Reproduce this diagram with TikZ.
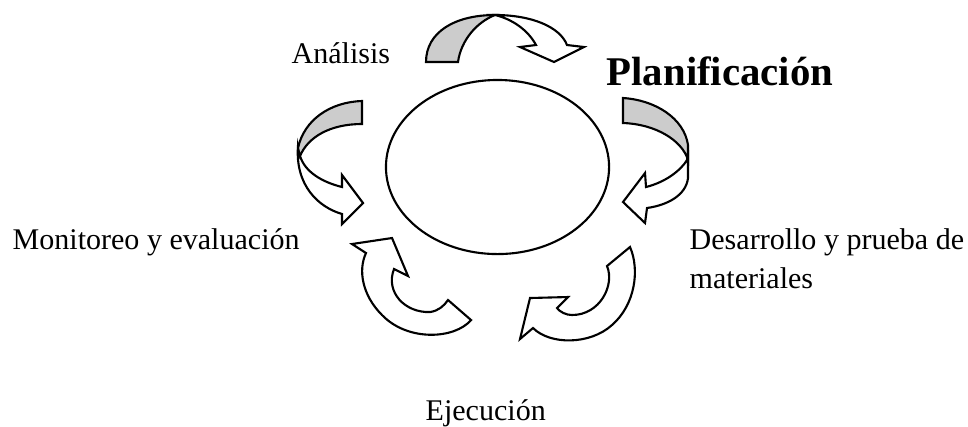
\documentclass[tikz,border=0pt]{standalone}
\usepackage{fontspec}
\setmainfont{Liberation Serif}
\usetikzlibrary{shapes.geometric, positioning, calc}

\newcommand{\lbltxt}{\fontsize{8.54}{11.1}\selectfont}
\newcommand{\bigtxt}{\fontsize{11.6}{13}\selectfont\bfseries}

\begin{document}
\begin{tikzpicture}[x=0.01cm, y=-0.01cm,
    ribbon/.style={draw=black, fill=white, line width=0.6pt, line join=miter},
    backside/.style={draw=black, fill=black!20, line width=0.6pt, line join=miter},
    lbl/.style={inner sep=0pt, anchor=base west, font=\lbltxt}]
      \useasboundingbox (0,0) rectangle (968,426);

      \node[draw, ellipse, line width=0.6pt, inner sep=0pt, minimum width=2.23cm, minimum height=1.74cm] (centro) at (497.5,167) {};

      % arriba
      \draw[ribbon] (495,15) .. controls (532,15) and (560,27) .. (567,45) -- (584,47) -- (554,62) -- (520,47) -- (536,45)
            .. controls (528,30) and (512,19) .. (495,15) -- cycle;
      \draw[backside] (426,62) .. controls (426,32) and (455,15) .. (495,15) .. controls (477,22) and (461,40) .. (458,62) -- cycle;

      % izquierda
      \draw[ribbon] (298,146) .. controls (295,185) and (318,207) .. (342,214) -- (342,224) -- (363,203) -- (342,175) -- (342,187)
            .. controls (322,182) and (305,172) .. (300,156) -- cycle;
      \draw[backside] (362,101) .. controls (330,102) and (304,120) .. (298,148) -- (300,156) .. controls (308,137) and (330,124) .. (362,124) -- cycle;

      % derecha
      \draw[ribbon] (688,150) -- (688,178) .. controls (686,195) and (668,205) .. (647,208) -- (645,223) -- (623,202) -- (645,173) -- (646,187)
            .. controls (666,182) and (681,170) .. (687,160) -- cycle;
      \draw[backside] (623,98) .. controls (655,100) and (684,118) .. (688,145) -- (688,160) .. controls (682,140) and (655,124) .. (623,123) -- cycle;

      % abajo izquierda
      \draw[ribbon] (366,253) -- (352,244) -- (392,238) -- (408,276) -- (394,269)
            .. controls (385,292) and (405,313) .. (430,312) .. controls (438,311) and (444,306) .. (448,300) -- (471,320)
            .. controls (455,339) and (408,342) .. (382,315) .. controls (362,295) and (358,270) .. (366,253) -- cycle;

      % abajo derecha
      \draw[ribbon] (607,266) .. controls (615,285) and (600,315) .. (572,315) .. controls (566,315) and (560,312) .. (557,308)
            -- (568,297) -- (530,298) -- (520,339) -- (533,328)
            .. controls (550,345) and (590,345) .. (612,325) .. controls (635,305) and (640,270) .. (630,247) -- cycle;

      \node[lbl] (analisis) at (291,63) {Análisis};
      \node[lbl, font=\bigtxt] (planif) at (606,85) {Planificación};
      \node[lbl] (monitoreo) at (12,249) {Monitoreo y evaluación};
      \node[lbl] (desarrollo) at (689,249) {Desarrollo y prueba de};
      \node[lbl] (materiales) at (689,288) {materiales};
      \node[lbl] (ejecucion) at (425,420) {Ejecución};

\end{tikzpicture}
\end{document}
